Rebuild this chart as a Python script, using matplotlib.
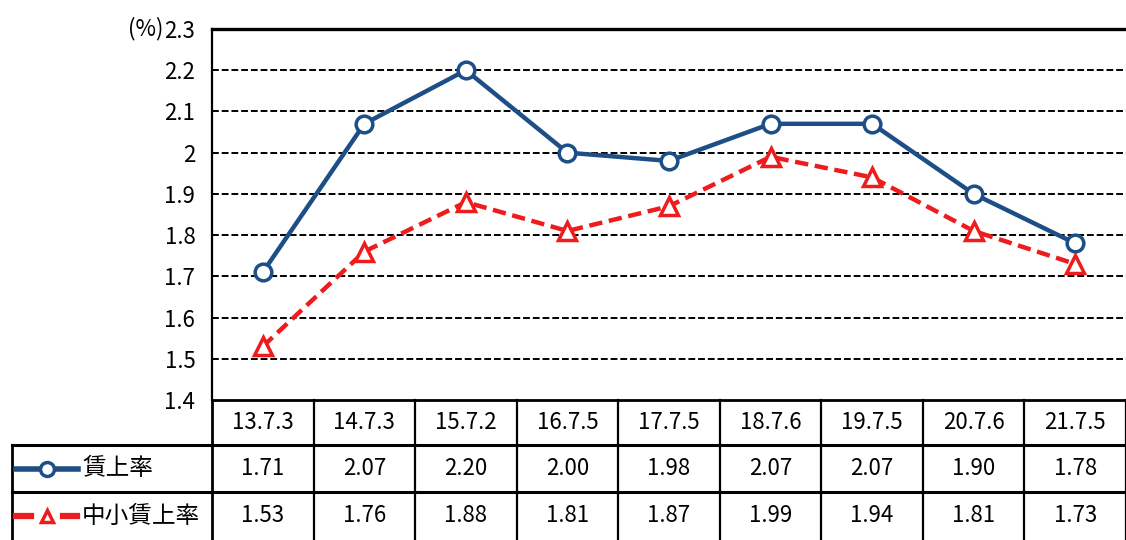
import matplotlib
matplotlib.use("Agg")
import matplotlib.pyplot as plt
from matplotlib.lines import Line2D

plt.rcParams['font.family'] = ['Noto Sans CJK JP', 'DejaVu Sans']

categories = ["13.7.3", "14.7.3", "15.7.2", "16.7.5", "17.7.5", "18.7.6", "19.7.5", "20.7.6", "21.7.5"]
wage_rate = [1.71, 2.07, 2.20, 2.00, 1.98, 2.07, 2.07, 1.90, 1.78]
sme_wage_rate = [1.53, 1.76, 1.88, 1.81, 1.87, 1.99, 1.94, 1.81, 1.73]
series_names = ["賃上率", "中小賃上率"]
yticks = [1.4, 1.5, 1.6, 1.7, 1.8, 1.9, 2.0, 2.1, 2.2, 2.3]
ytick_labels = ["1.4", "1.5", "1.6", "1.7", "1.8", "1.9", "2", "2.1", "2.2", "2.3"]

BLUE = "#1d4f86"
RED = "#ee1c1c"
W, H = 1126, 540

fig = plt.figure(figsize=(W / 100, H / 100), dpi=100)

# plot area in pixel geometry
px_left, px_right, px_top, px_bottom = 212, 1126, 29, 400
ax = fig.add_axes([px_left / W, 1 - px_bottom / H, (px_right - px_left) / W, (px_bottom - px_top) / H])
n = len(categories)
x = list(range(n))
ax.set_xlim(-0.5, n - 0.5)
ax.set_ylim(1.4, 2.3)
ax.set_yticks(yticks)
ax.set_yticklabels(ytick_labels, fontsize=16)
ax.set_xticks([])
ax.tick_params(axis='y', length=0, pad=12)
for y in yticks[1:-1]:
    ax.axhline(y, color="black", lw=1.4, ls=(0, (3.5, 1.5)), zorder=1)
ax.spines['right'].set_visible(False)
ax.spines['bottom'].set_visible(False)
ax.spines['top'].set_linewidth(2.4)
ax.spines['left'].set_linewidth(1.6)

ax.plot(x, wage_rate, color=BLUE, lw=3.2, marker='o', ms=12, mfc='white', mec=BLUE, mew=2.5, zorder=4, clip_on=False)
ax.plot(x, sme_wage_rate, color=RED, lw=3.2, ls=(0, (3, 1.5)), marker='^', ms=13, mfc='white', mec=RED, mew=2.5, zorder=3, clip_on=False)

# data table overlay in pixel coordinates
tax = fig.add_axes([0, 0, 1, 1], zorder=5)
tax.set_xlim(0, W)
tax.set_ylim(H, 0)
tax.axis('off')
tax.patch.set_alpha(0)

tax.text(163, px_top, "(%)", ha='right', va='center', fontsize=16)

colw = (px_right - px_left) / n
row_y = [400, 445, 492, 545]
lc = "black"
tax.plot([px_left, W], [row_y[0], row_y[0]], color=lc, lw=2)
for ry in row_y[1:3]:
    tax.plot([12, W], [ry, ry], color=lc, lw=2.2)
tax.plot([12, 12], [row_y[1], H], color=lc, lw=2)
for i in range(n + 1):
    xx = px_left + i * colw
    tax.plot([xx, xx], [row_y[0], H], color=lc, lw=2 if i == 0 else 1.6)

fs = 16
for i, c in enumerate(categories):
    cx = px_left + (i + 0.5) * colw
    tax.text(cx, (row_y[0] + row_y[1]) / 2, c, ha='center', va='center', fontsize=fs)
    tax.text(cx, (row_y[1] + row_y[2]) / 2, f"{wage_rate[i]:.2f}", ha='center', va='center', fontsize=fs)
    tax.text(cx, (row_y[2] + H) / 2, f"{sme_wage_rate[i]:.2f}", ha='center', va='center', fontsize=fs)

# legend keys inside the table
y1 = (row_y[1] + row_y[2]) / 2
y2 = (row_y[2] + H) / 2
tax.add_line(Line2D([16, 78], [y1, y1], color=BLUE, lw=4))
tax.add_line(Line2D([47], [y1], color=BLUE, marker='o', ms=10, mfc='white', mec=BLUE, mew=2.5))
tax.add_line(Line2D([16, 31], [y2, y2], color=RED, lw=4.5))
tax.add_line(Line2D([63, 77], [y2, y2], color=RED, lw=4.5))
tax.add_line(Line2D([47], [y2], color=RED, marker='^', ms=9, mfc='white', mec=RED, mew=2.5))
tax.text(82, y1, series_names[0], ha='left', va='center', fontsize=17)
tax.text(82, y2, series_names[1], ha='left', va='center', fontsize=17)

fig.savefig("out.png", dpi=100)
